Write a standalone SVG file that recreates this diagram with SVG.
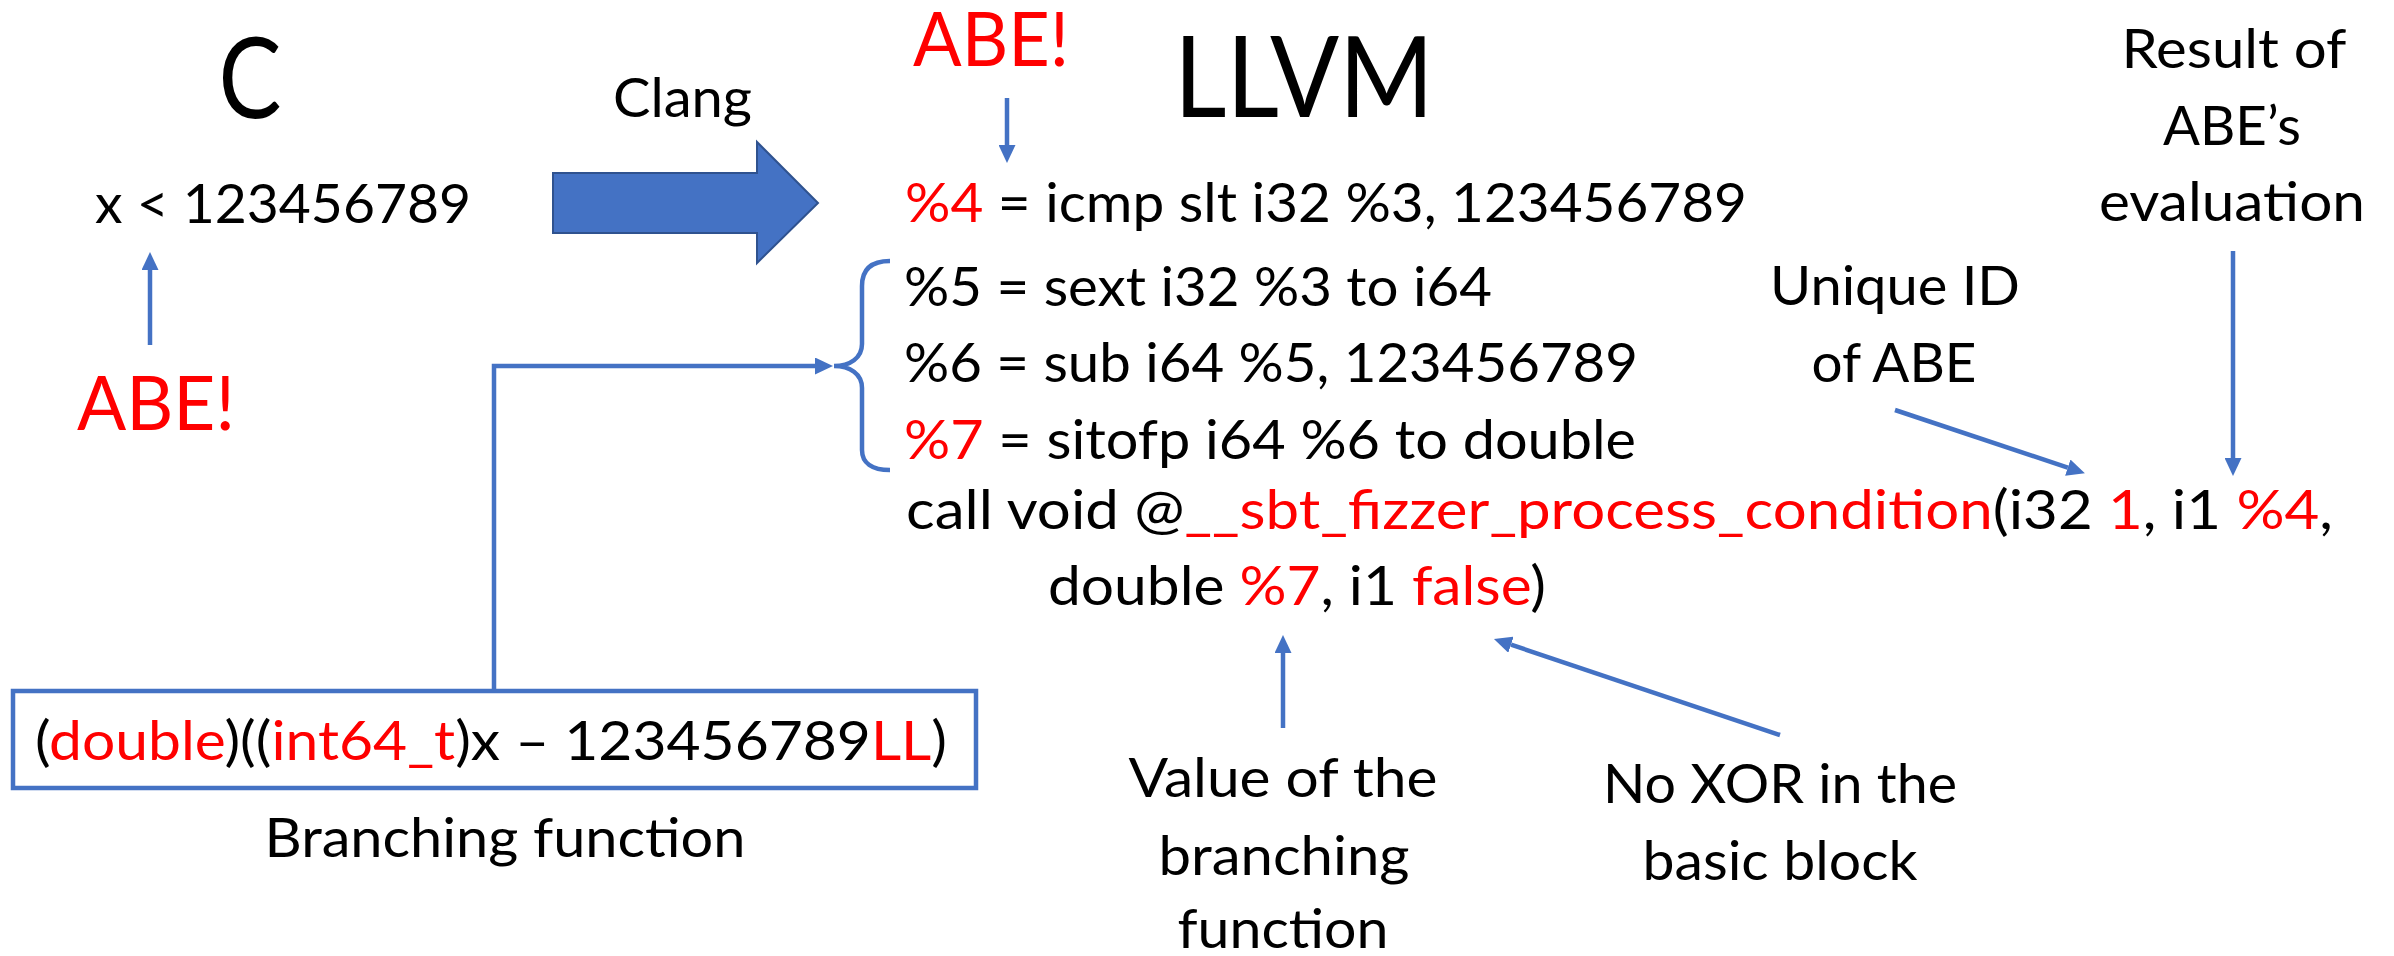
<svg xmlns="http://www.w3.org/2000/svg" width="2394" height="956" viewBox="0 0 2394 956">
  <style>
    text { font-family: Lato, "Open Sans", "DejaVu Sans", sans-serif; fill: #000; }
    .body { font-size: 55px; }
    .title { font-size: 112px; }
    .abe { font-size: 76px; fill: #FF0000; }
    .red { fill: #FF0000; }
    .conn { stroke: #4472C4; stroke-width: 4.5; fill: none; }
  </style>
  <defs>
    <marker id="head" viewBox="0 0 18 17" markerWidth="18" markerHeight="17" markerUnits="userSpaceOnUse" refX="0" refY="8.5" orient="auto">
      <path d="M0,0 L18,8.5 L0,17 z" fill="#4472C4"/>
    </marker>
  </defs>
  <rect width="2394" height="956" fill="#FFFFFF"/>

  <!-- C side -->
  <g id="c-title">
    <text class="title" x="250" y="118" text-anchor="middle" textLength="63" lengthAdjust="spacingAndGlyphs">C</text>
  </g>
  <g id="c-condition">
    <text class="body" x="95" y="223" textLength="376" lengthAdjust="spacingAndGlyphs">x &lt; 123456789</text>
  </g>
  <g id="abe-c">
    <text class="abe" x="77" y="430" textLength="158" lengthAdjust="spacingAndGlyphs">ABE!</text>
  </g>

  <!-- compiler step -->
  <g id="clang">
    <text class="body" x="613" y="117" textLength="139" lengthAdjust="spacingAndGlyphs">Clang</text>
    <polygon points="553,173 757,173 757,142 818,203 757,263 757,233 553,233" fill="#4472C4" stroke="#2F528F" stroke-width="2"/>
  </g>

  <!-- LLVM side -->
  <g id="llvm-title">
    <text class="title" x="1174" y="117" textLength="260" lengthAdjust="spacingAndGlyphs">LLVM</text>
  </g>
  <g id="abe-llvm">
    <text class="abe" x="913" y="66" textLength="156" lengthAdjust="spacingAndGlyphs">ABE!</text>
  </g>

  <g id="ir-code">
    <text class="body" x="905" y="222" textLength="842" lengthAdjust="spacingAndGlyphs"><tspan class="red">%4</tspan> = icmp slt i32 %3, 123456789</text>
    <text class="body" x="904" y="306" textLength="588" lengthAdjust="spacingAndGlyphs">%5 = sext i32 %3 to i64</text>
    <text class="body" x="904" y="382" textLength="734" lengthAdjust="spacingAndGlyphs">%6 = sub i64 %5, 123456789</text>
    <text class="body" x="904" y="459" textLength="732" lengthAdjust="spacingAndGlyphs"><tspan class="red">%7</tspan> = sitofp i64 %6 to double</text>
    <text class="body" x="906" y="529" textLength="1427" lengthAdjust="spacingAndGlyphs">call void @<tspan class="red">__sbt_fizzer_process_condition</tspan>(i32 <tspan class="red">1</tspan>, i1 <tspan class="red">%4</tspan>,</text>
    <text class="body" x="1048" y="605" textLength="498" lengthAdjust="spacingAndGlyphs">double <tspan class="red">%7</tspan>, i1 <tspan class="red">false</tspan>)</text>
  </g>

  <g id="brace">
    <path class="conn" d="M890,261 C872,261 862,269 862,286 L862,344 C862,358 850,366 834,366 C850,366 862,374 862,388 L862,450 C862,463 872,470 890,470"/>
  </g>

  <!-- branching function box -->
  <g id="branching-function">
    <rect x="13" y="691" width="963" height="97" fill="#FFFFFF" stroke="#4472C4" stroke-width="4.5"/>
    <text class="body" x="35" y="760" textLength="912" lengthAdjust="spacingAndGlyphs">(<tspan class="red">double</tspan>)((<tspan class="red">int64_t</tspan>)x – 123456789<tspan class="red">LL</tspan>)</text>
    <text class="body" x="505" y="857" text-anchor="middle" textLength="481" lengthAdjust="spacingAndGlyphs">Branching function</text>
  </g>

  <!-- annotations -->
  <g id="note-value">
    <text class="body" x="1283" y="797" text-anchor="middle" textLength="309" lengthAdjust="spacingAndGlyphs">Value of the</text>
    <text class="body" x="1284" y="875" text-anchor="middle" textLength="251" lengthAdjust="spacingAndGlyphs">branching</text>
    <text class="body" x="1283" y="948" text-anchor="middle" textLength="211" lengthAdjust="spacingAndGlyphs">function</text>
  </g>
  <g id="note-xor">
    <text class="body" x="1780" y="803" text-anchor="middle" textLength="354" lengthAdjust="spacingAndGlyphs">No XOR in the</text>
    <text class="body" x="1780" y="880" text-anchor="middle" textLength="275" lengthAdjust="spacingAndGlyphs">basic block</text>
  </g>
  <g id="note-id">
    <text class="body" x="1895" y="305" text-anchor="middle" textLength="250" lengthAdjust="spacingAndGlyphs">Unique ID</text>
    <text class="body" x="1894" y="382" text-anchor="middle" textLength="165" lengthAdjust="spacingAndGlyphs">of ABE</text>
  </g>
  <g id="note-result">
    <text class="body" x="2234" y="68" text-anchor="middle" textLength="225" lengthAdjust="spacingAndGlyphs">Result of</text>
    <text class="body" x="2232" y="145" text-anchor="middle" textLength="138" lengthAdjust="spacingAndGlyphs">ABE’s</text>
    <text class="body" x="2232" y="221" text-anchor="middle" textLength="266" lengthAdjust="spacingAndGlyphs">evaluation</text>
  </g>

  <!-- connectors -->
  <g id="connectors">
    <line class="conn" x1="150" y1="345" x2="150" y2="270" marker-end="url(#head)"/>
    <line class="conn" x1="1007" y1="98" x2="1007" y2="145" marker-end="url(#head)"/>
    <polyline class="conn" points="494,691 494,366 815,366" marker-end="url(#head)"/>
    <line class="conn" x1="1283" y1="728" x2="1283" y2="653" marker-end="url(#head)"/>
    <line class="conn" x1="1780" y1="735" x2="1511" y2="644.7" marker-end="url(#head)"/>
    <line class="conn" x1="1895" y1="410" x2="2067.8" y2="467.6" marker-end="url(#head)"/>
    <line class="conn" x1="2233" y1="251" x2="2233" y2="458" marker-end="url(#head)"/>
  </g>
</svg>
